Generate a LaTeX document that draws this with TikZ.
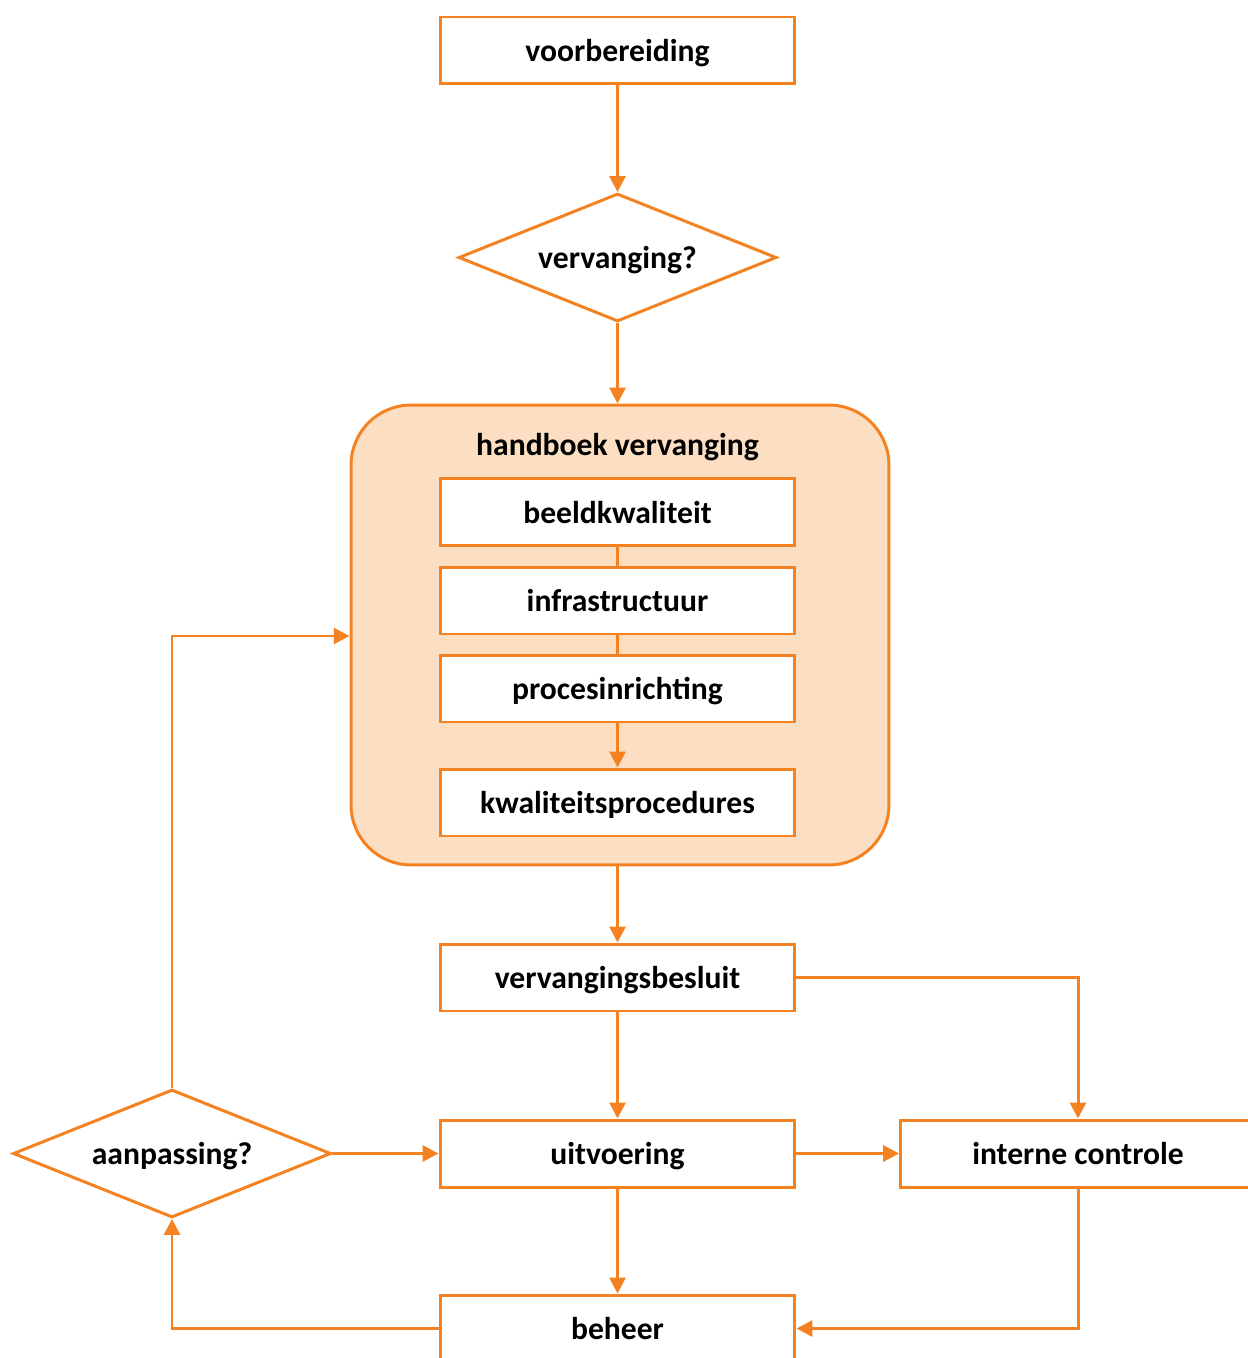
\documentclass[tikz,border=0pt]{standalone}
\usepackage{fontspec}
\setmainfont{Carlito}
\usetikzlibrary{shapes.geometric,arrows.meta}
\definecolor{org}{RGB}{245,130,32}
\definecolor{peach}{RGB}{252,223,195}
\tikzset{
  txt/.style={font=\bfseries\fontsize{18}{22}\selectfont,text height=15pt,text depth=2pt},
  box/.style={txt,draw=org,line width=1.7pt,fill=white,minimum width=7.1cm,minimum height=1.34cm,inner sep=0pt},
  dia/.style={txt,draw=org,line width=1.7pt,fill=white,diamond,aspect=2.5,minimum width=6.36cm,minimum height=2.56cm,inner sep=0pt},
  conn/.style={draw=org,line width=1.7pt},
  arr/.style={conn,-{Triangle[length=9pt,width=9pt]}},
  lbl/.style={txt,inner sep=0pt}
}
\begin{document}
\begin{tikzpicture}[x=0.02cm,y=-0.02cm]
\useasboundingbox (0,0) rectangle (1247,1358);
\node[box] (voor) at (617.5,50.5) {voorbereiding};
\node[dia] (verv) at (617.5,257.5) {vervanging?};
\node[draw=org,line width=1.7pt,fill=peach,rounded corners=1.2cm,minimum width=10.76cm,minimum height=9.2cm,inner sep=0pt] (hb) at (620,635) {};
\node[lbl] (hbt) at (617.5,444) {handboek vervanging};
\node[box] (beeld) at (617.5,512) {beeldkwaliteit};
\node[box] (infra) at (617.5,600.5) {infrastructuur};
\node[box] (proc) at (617.5,688.5) {procesinrichting};
\node[box] (kwal) at (617.5,802.5) {kwaliteitsprocedures};
\node[box] (besl) at (617.5,977.5) {vervangingsbesluit};
\node[box] (uitv) at (617.5,1153.5) {uitvoering};
\node[box] (intc) at (1078,1153.5) {interne controle};
\node[dia] (aanp) at (172,1153.5) {aanpassing?};
\node[box] (beh) at (617.5,1328.5) {beheer};

\draw[arr] (voor) -- (verv);
\draw[arr] (verv) -- (verv |- hb.north);
\draw[conn] (beeld) -- (infra);
\draw[conn] (infra) -- (proc);
\draw[arr] (proc) -- (kwal);
\draw[arr] (besl |- hb.south) -- (besl);
\draw[arr] (besl) -- (uitv);
\draw[arr] (besl.east) -| (intc.north);
\draw[arr] (uitv) -- (intc);
\draw[arr] (aanp.east) -- (uitv.west);
\draw[arr] (aanp.north) |- (hb.west |- 0,636);
\draw[arr] (uitv) -- (beh);
\draw[arr] (beh.west) -| (aanp.south);
\draw[arr] (intc.south) |- (beh.east);
\end{tikzpicture}
\end{document}
